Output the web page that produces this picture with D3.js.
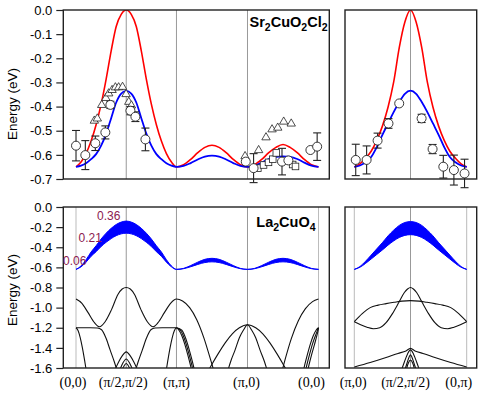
<!DOCTYPE html>
<html><head><meta charset="utf-8">
<script src="https://cdn.jsdelivr.net/npm/d3@7"></script>
<style>body{margin:0;background:#fff}svg{display:block}</style>
</head><body><svg id="c" width="482" height="395"></svg>
<script>
// ---------------- DATA ----------------
const kLeft = [0,0.0707,0.1414,0.2121,0.2828,0.3536,0.4243,0.495,0.5657,0.6364,0.7071,0.7778,0.8485,0.9192,0.9899,1.0607,1.1314,1.2021,1.2728,1.3435,1.4142,
  1.5142,1.6142,1.7142,1.8142,1.9142,2.0142,2.1142,2.2142,2.3142,2.4142,
  2.5142,2.6142,2.7142,2.8142,2.9142,3.0142,3.1142,3.2142,3.3142,3.4142];
const kRight = [0,0.0707,0.1414,0.2121,0.2828,0.3536,0.4243,0.495,0.5657,0.6364,0.7071,0.7778,0.8485,0.9192,0.9899,1.0607,1.1314,1.2021,1.2728,1.3435,1.4142];

const redTopLeft = [-0.65,-0.63,-0.595,-0.543,-0.475,-0.39,-0.286,-0.169,-0.068,-0.018,0,-0.018,-0.068,-0.169,-0.286,-0.39,-0.475,-0.543,-0.595,-0.63,-0.65,
  -0.641,-0.619,-0.591,-0.569,-0.56,-0.569,-0.591,-0.619,-0.641,-0.65,
  -0.641,-0.619,-0.591,-0.569,-0.557,-0.569,-0.591,-0.619,-0.641,-0.65];
const blueTopLeft = [-0.65,-0.645,-0.635,-0.618,-0.597,-0.562,-0.512,-0.448,-0.383,-0.346,-0.335,-0.346,-0.383,-0.448,-0.512,-0.562,-0.597,-0.618,-0.635,-0.645,-0.65,
  -0.646,-0.634,-0.619,-0.607,-0.603,-0.607,-0.619,-0.634,-0.646,-0.65,
  -0.645,-0.632,-0.617,-0.608,-0.606,-0.608,-0.617,-0.632,-0.645,-0.65];
const redTopRight = [-0.65,-0.637,-0.614,-0.585,-0.54,-0.481,-0.403,-0.299,-0.156,-0.05,0,-0.05,-0.156,-0.299,-0.403,-0.481,-0.54,-0.585,-0.614,-0.637,-0.65];
const blueTopRight = [-0.65,-0.644,-0.631,-0.609,-0.568,-0.517,-0.47,-0.423,-0.381,-0.347,-0.334,-0.347,-0.381,-0.423,-0.47,-0.517,-0.568,-0.609,-0.631,-0.644,-0.65];

const bandLeftUpper = [-0.62,-0.586,-0.524,-0.447,-0.385,-0.318,-0.26,-0.212,-0.174,-0.15,-0.14,-0.15,-0.174,-0.212,-0.26,-0.318,-0.385,-0.447,-0.524,-0.586,-0.62,
  -0.61,-0.582,-0.548,-0.52,-0.51,-0.52,-0.548,-0.582,-0.61,-0.62,
  -0.61,-0.582,-0.548,-0.52,-0.51,-0.52,-0.548,-0.582,-0.61,-0.62];
const bandLeftLower = [-0.62,-0.595,-0.548,-0.49,-0.444,-0.393,-0.35,-0.314,-0.285,-0.267,-0.26,-0.267,-0.285,-0.314,-0.35,-0.393,-0.444,-0.49,-0.548,-0.595,-0.62,
  -0.613,-0.594,-0.571,-0.552,-0.545,-0.552,-0.571,-0.594,-0.613,-0.62,
  -0.613,-0.594,-0.571,-0.552,-0.545,-0.552,-0.571,-0.594,-0.613,-0.62];
const bandRightUpper = [-0.62,-0.592,-0.539,-0.478,-0.416,-0.354,-0.287,-0.23,-0.183,-0.154,-0.145,-0.154,-0.183,-0.23,-0.287,-0.354,-0.416,-0.478,-0.539,-0.592,-0.62];
const bandRightLower = [-0.62,-0.599,-0.561,-0.517,-0.472,-0.427,-0.379,-0.337,-0.303,-0.282,-0.275,-0.282,-0.303,-0.337,-0.379,-0.427,-0.472,-0.517,-0.561,-0.599,-0.62];

// black bands, [k, E] per branch
const blackLeft = [
  [[0,-0.915],[0.08,-0.955],[0.17,-1.05],[0.26,-1.15],[0.33,-1.19],[0.41,-1.14],[0.5,-1.02],[0.59,-0.87],[0.65,-0.815],[0.707,-0.8],[0.764,-0.815],[0.824,-0.87],[0.914,-1.02],[1.004,-1.14],[1.084,-1.19],[1.154,-1.15],[1.244,-1.05],[1.334,-0.955],[1.414,-0.915],[1.5,-0.935],[1.6,-1.0],[1.7,-1.12],[1.8,-1.3],[1.9,-1.53],[1.95,-1.65]],
  [[2.89,-1.66],[2.95,-1.5],[3.03,-1.31],[3.13,-1.13],[3.23,-1.01],[3.33,-0.94],[3.414,-0.915]],
  [[0,-1.2],[0.1,-1.2],[0.2,-1.2],[0.3,-1.203],[0.36,-1.22],[0.42,-1.3],[0.48,-1.42],[0.54,-1.54],[0.58,-1.63]],
  [[0.834,-1.63],[0.874,-1.54],[0.934,-1.42],[0.994,-1.3],[1.054,-1.22],[1.114,-1.203],[1.214,-1.2],[1.314,-1.2],[1.414,-1.2]],
  [[0,-1.2],[0.03,-1.23],[0.06,-1.3],[0.09,-1.4],[0.12,-1.52],[0.15,-1.65]],
  [[1.264,-1.65],[1.294,-1.52],[1.324,-1.4],[1.354,-1.3],[1.384,-1.23],[1.414,-1.2],[1.45,-1.225],[1.49,-1.28],[1.53,-1.36],[1.57,-1.46],[1.61,-1.57],[1.63,-1.63]],
  [[1.414,-1.2],[1.47,-1.225],[1.51,-1.28],[1.55,-1.36],[1.59,-1.46],[1.63,-1.57],[1.65,-1.63]],
  [[1.414,-1.2],[1.49,-1.225],[1.53,-1.28],[1.57,-1.36],[1.61,-1.46],[1.65,-1.57],[1.67,-1.63]],
  [[3.2,-1.63],[3.22,-1.57],[3.26,-1.46],[3.3,-1.36],[3.34,-1.28],[3.38,-1.225],[3.414,-1.2]],
  [[3.23,-1.63],[3.25,-1.57],[3.29,-1.46],[3.33,-1.36],[3.37,-1.28],[3.4,-1.225],[3.414,-1.2]],
  [[3.26,-1.63],[3.28,-1.57],[3.32,-1.46],[3.36,-1.36],[3.39,-1.28],[3.41,-1.22],[3.414,-1.2]],
  [[1.86,-1.63],[1.9,-1.58],[2.0,-1.46],[2.1,-1.35],[2.2,-1.26],[2.3,-1.2],[2.414,-1.17],[2.53,-1.2],[2.63,-1.26],[2.73,-1.35],[2.83,-1.46],[2.93,-1.58],[2.97,-1.63]],
  [[2.14,-1.62],[2.18,-1.53],[2.24,-1.42],[2.3,-1.3],[2.36,-1.22],[2.414,-1.17],[2.47,-1.22],[2.53,-1.3],[2.59,-1.42],[2.65,-1.53],[2.69,-1.62]],
  [[0.54,-1.63],[0.6,-1.54],[0.65,-1.48],[0.707,-1.44],[0.764,-1.48],[0.814,-1.54],[0.874,-1.63]],
  [[0.61,-1.63],[0.66,-1.55],[0.707,-1.51],[0.754,-1.55],[0.804,-1.63]],
  [[0.64,-1.63],[0.68,-1.575],[0.707,-1.555],[0.734,-1.575],[0.774,-1.63]]
];
const blackRight = [
  [[0,-1.14],[0.1,-1.06],[0.2,-1.0],[0.3,-0.975],[0.4,-0.96],[0.5,-0.947],[0.6,-0.935],[0.707,-0.93],[0.814,-0.935],[0.914,-0.947],[1.014,-0.96],[1.114,-0.975],[1.214,-1.0],[1.314,-1.06],[1.414,-1.14]],
  [[0,-1.14],[0.08,-1.17],[0.16,-1.195],[0.24,-1.21],[0.32,-1.2],[0.4,-1.15],[0.48,-1.06],[0.56,-0.95],[0.63,-0.85],[0.67,-0.815],[0.707,-0.8],[0.744,-0.815],[0.784,-0.85],[0.854,-0.95],[0.934,-1.06],[1.014,-1.15],[1.094,-1.2],[1.174,-1.21],[1.254,-1.195],[1.334,-1.17],[1.414,-1.14]],
  [[0,-1.59],[0.2,-1.545],[0.4,-1.495],[0.55,-1.455],[0.65,-1.43],[0.707,-1.405],[0.764,-1.43],[0.864,-1.455],[1.014,-1.495],[1.214,-1.545],[1.414,-1.59]],
  [[0.59,-1.63],[0.63,-1.54],[0.67,-1.46],[0.707,-1.42],[0.744,-1.46],[0.784,-1.54],[0.824,-1.63]],
  [[0.63,-1.63],[0.66,-1.56],[0.69,-1.49],[0.707,-1.47],[0.724,-1.49],[0.754,-1.56],[0.784,-1.63]],
  [[0.65,-1.63],[0.68,-1.55],[0.707,-1.52],[0.734,-1.55],[0.764,-1.63]]
];

// experimental points [k, E, error]
const circlesTopLeft = [[0,-0.562,0.063],[0.131,-0.601,0.06],[0.272,-0.552,0.03],[0.413,-0.507,0.027],[0.484,-0.393,0.015],[0.766,-0.417,0.017],[0.836,-0.442,0.02],[0.977,-0.536,0.047],
  [2.39,-0.628,0],[2.5,-0.655,0.06],[2.9,-0.628,0.055],[2.99,-0.623,0],[3.3,-0.58,0],[3.395,-0.566,0.057]];
const trianglesTopLeft = [[0.258,-0.458],[0.3,-0.449],[0.362,-0.393],[0.42,-0.364],[0.46,-0.345],[0.508,-0.331],[0.554,-0.32],[0.6,-0.32],[0.655,-0.318],[0.705,-0.348],[0.743,-0.38],[0.78,-0.395],
  [2.38,-0.605],[2.571,-0.58],[2.675,-0.527],[2.76,-0.494],[2.84,-0.487],[2.924,-0.462],[3.03,-0.47]];
const squaresTopLeft = [[2.56,-0.655],[2.64,-0.642],[2.71,-0.631],[2.77,-0.618],[2.82,-0.592],[3.05,-0.64],[3.09,-0.648]];
const circlesTopRight = [[0.018,-0.621,0.065],[0.155,-0.621,0.058],[0.293,-0.541,0.031],[0.43,-0.47,0.02],[0.565,-0.387,0],[0.847,-0.449,0.017],[0.985,-0.576,0.019],[1.12,-0.649,0.047],[1.253,-0.663,0.062],[1.387,-0.677,0.059]];

const topTickValues = [0,-0.1,-0.2,-0.3,-0.4,-0.5,-0.6,-0.7];
const topTickLabels = ["0.0","-0.1","-0.2","-0.3","-0.4","-0.5","-0.6","-0.7"];
const botTickValues = [0,-0.2,-0.4,-0.6,-0.8,-1.0,-1.2,-1.4,-1.6];
const botTickLabels = ["0.0","-0.2","-0.4","-0.6","-0.8","-1.0","-1.2","-1.4","-1.6"];
const kLabelsLeft = ["(0,0)","(\u03c0/2,\u03c0/2)","(\u03c0,\u03c0)","(\u03c0,0)","(0,0)"];
const kPosLeft = [0,0.7071,1.4142,2.4142,3.4142];
const kLabelsRight = ["(\u03c0,0)","(\u03c0/2,\u03c0/2)","(0,\u03c0)"];
const kPosRight = [0,0.7071,1.4142];
const weightLabels = ["0.36","0.21","0.06"];

// ---------------- DRAWING ----------------
const svg = d3.select("#c");
const SANS = "'Liberation Sans', Arial, Helvetica, sans-serif";
const SERIF = "'Liberation Serif', 'Times New Roman', serif";
const xL = d3.scaleLinear().domain([-0.179, 3.566]).range([63.3, 329.3]);
const xR = d3.scaleLinear().domain([-0.117, 1.540]).range([345, 476.7]);
const yT = d3.scaleLinear().domain([-0.7, 0]).range([179, 10]);
const yB = d3.scaleLinear().domain([-1.6, 0]).range([368, 207]);

const defs = svg.append("defs");
function clip(id, x, y) {
  defs.append("clipPath").attr("id", id).append("rect")
    .attr("x", x.range()[0]).attr("y", y.range()[1])
    .attr("width", x.range()[1] - x.range()[0]).attr("height", y.range()[0] - y.range()[1]);
}
clip("cTL", xL, yT); clip("cTR", xR, yT); clip("cBL", xL, yB); clip("cBR", xR, yB);

function grid(x, y, vals, colors) {
  svg.append("g").selectAll("line").data(vals).join("line")
    .attr("x1", d => x(d)).attr("x2", d => x(d))
    .attr("y1", y.range()[1]).attr("y2", y.range()[0])
    .attr("stroke", (d, i) => colors[i]).attr("stroke-width", 1);
}
grid(xL, yT, [0.7071, 1.4142, 2.4142], ["#999", "#999", "#999"]);
grid(xR, yT, [0.7071], ["#999"]);
grid(xL, yB, kPosLeft, ["#bbb", "#999", "#999", "#999", "#bbb"]);
grid(xR, yB, kPosRight, ["#bbb", "#999", "#bbb"]);

function curve(x, y, ks, vals, color, w, clipId) {
  const line = d3.line().x((d, i) => x(ks[i])).y(d => y(d)).curve(d3.curveMonotoneX);
  svg.append("path").attr("d", line(vals)).attr("fill", "none")
    .attr("stroke", color).attr("stroke-width", w).attr("clip-path", `url(#${clipId})`);
}
function band(x, y, ks, lo, hi, clipId) {
  const area = d3.area().x((d, i) => x(ks[i])).y0((d, i) => y(lo[i])).y1((d, i) => y(hi[i])).curve(d3.curveMonotoneX);
  svg.append("path").attr("d", area(lo)).attr("fill", "#0000ff")
    .attr("stroke", "#0000ff").attr("stroke-width", 1).attr("clip-path", `url(#${clipId})`);
}
function branches(x, y, list, clipId) {
  const line = d3.line().x(d => x(d[0])).y(d => y(d[1])).curve(d3.curveMonotoneX);
  svg.append("g").attr("clip-path", `url(#${clipId})`).selectAll("path")
    .data(list).join("path")
    .attr("d", d => line(d.slice().sort((a, b) => a[0] - b[0])))
    .attr("fill", "none").attr("stroke", "#111").attr("stroke-width", 1.1);
}

// top panels
curve(xL, yT, kLeft, redTopLeft, "#ff0000", 1.6, "cTL");
curve(xL, yT, kLeft, blueTopLeft, "#0000ff", 1.8, "cTL");
curve(xR, yT, kRight, redTopRight, "#ff0000", 1.6, "cTR");
curve(xR, yT, kRight, blueTopRight, "#0000ff", 1.8, "cTR");

// bottom panels
band(xL, yB, kLeft, bandLeftLower, bandLeftUpper, "cBL");
band(xR, yB, kRight, bandRightLower, bandRightUpper, "cBR");
branches(xL, yB, blackLeft, "cBL");
branches(xR, yB, blackRight, "cBR");

// markers
function errCircles(x, y, data) {
  const g = svg.append("g");
  data.filter(d => d[2] > 0).forEach(d => {
    const cx = x(d[0]), y1 = y(d[1] - d[2]), y2 = y(d[1] + d[2]);
    g.append("line").attr("x1", cx).attr("x2", cx).attr("y1", y1).attr("y2", y2);
    g.append("line").attr("x1", cx - 4).attr("x2", cx + 4).attr("y1", y1).attr("y2", y1);
    g.append("line").attr("x1", cx - 4).attr("x2", cx + 4).attr("y1", y2).attr("y2", y2);
  });
  g.selectAll("line").attr("stroke", "#222").attr("stroke-width", 1.1);
  g.selectAll("circle").data(data).join("circle")
    .attr("cx", d => x(d[0])).attr("cy", d => y(d[1])).attr("r", 4.5)
    .attr("fill", "#fff").attr("stroke", "#222").attr("stroke-width", 0.9);
}
function triangles(x, y, data) {
  svg.append("g").selectAll("path").data(data).join("path")
    .attr("d", d => { const cx = x(d[0]), cy = y(d[1]);
      return `M${cx},${cy - 4.6}L${cx - 4.2},${cy + 2.6}L${cx + 4.2},${cy + 2.6}Z`; })
    .attr("fill", "#fff").attr("stroke", "#222").attr("stroke-width", 0.8);
}
function squares(x, y, data) {
  svg.append("g").selectAll("rect").data(data).join("rect")
    .attr("x", d => x(d[0]) - 3.3).attr("y", d => y(d[1]) - 3.3)
    .attr("width", 6.6).attr("height", 6.6)
    .attr("fill", "#fff").attr("stroke", "#222").attr("stroke-width", 0.8);
}
triangles(xL, yT, trianglesTopLeft);
squares(xL, yT, squaresTopLeft);
errCircles(xL, yT, circlesTopLeft);
errCircles(xR, yT, circlesTopRight);

// frames
function frame(x, y) {
  svg.append("rect").attr("x", x.range()[0]).attr("y", y.range()[1])
    .attr("width", x.range()[1] - x.range()[0]).attr("height", y.range()[0] - y.range()[1])
    .attr("fill", "none").attr("stroke", "#222").attr("stroke-width", 1.4);
}
frame(xL, yT); frame(xR, yT); frame(xL, yB); frame(xR, yB);

// y axes
function yAxis(y, vals, labels) {
  const g = svg.append("g").attr("transform", `translate(${xL.range()[0]},0)`)
    .call(d3.axisLeft(y).tickValues(vals).tickFormat((d, i) => labels[i]).tickSize(7).tickPadding(4));
  g.select(".domain").remove();
  g.selectAll(".tick line").attr("stroke", "#222").attr("stroke-width", 1.2);
  g.selectAll(".tick text").attr("fill", "#000").style("font-family", SANS).style("font-size", "13px");
}
yAxis(yT, topTickValues, topTickLabels);
yAxis(yB, botTickValues, botTickLabels);

// axis titles
[[yT, 104], [yB, 290]].forEach(([y, cy]) => {
  svg.append("text").attr("transform", `translate(16.5,${cy}) rotate(-90)`)
    .attr("text-anchor", "middle").style("font-family", SANS).style("font-size", "13.5px")
    .text("Energy (eV)");
});

// k labels
const nudgeL = [-3, -3, 0, -1, -7], nudgeR = [-1, -5, -8];
svg.append("g").selectAll("text").data(kLabelsLeft).join("text")
  .attr("x", (d, i) => xL(kPosLeft[i]) + nudgeL[i]).attr("y", 387)
  .attr("text-anchor", "middle").style("font-family", SERIF).style("font-size", "14px").text(d => d);
svg.append("g").selectAll("text").data(kLabelsRight).join("text")
  .attr("x", (d, i) => xR(kPosRight[i]) + nudgeR[i]).attr("y", 387)
  .attr("text-anchor", "middle").style("font-family", SERIF).style("font-size", "14px").text(d => d);

// compound labels
function chem(x, y, parts) {
  const t = svg.append("text").attr("x", x).attr("y", y).attr("text-anchor", "end")
    .style("font-family", SANS).style("font-weight", "bold").style("font-size", "14.5px");
  let shifted = false;
  parts.forEach(p => {
    const sub = /^\d$/.test(p);
    const s = t.append("tspan").text(p);
    if (sub) { s.attr("dy", 4).style("font-size", "10.5px"); shifted = true; }
    else if (shifted) { s.attr("dy", -4); shifted = false; }
  });
}
chem(327.5, 27, ["Sr", "2", "CuO", "2", "Cl", "2"]);
chem(315.5, 227, ["La", "2", "CuO", "4"]);

// weight labels
const wPos = [[97, 220], [78.5, 242], [63, 265]];
svg.append("g").selectAll("text").data(weightLabels).join("text")
  .attr("x", (d, i) => wPos[i][0]).attr("y", (d, i) => wPos[i][1])
  .attr("fill", "#8b1a4f").style("font-family", SANS).style("font-size", "12px").text(d => d);
</script></body></html>
